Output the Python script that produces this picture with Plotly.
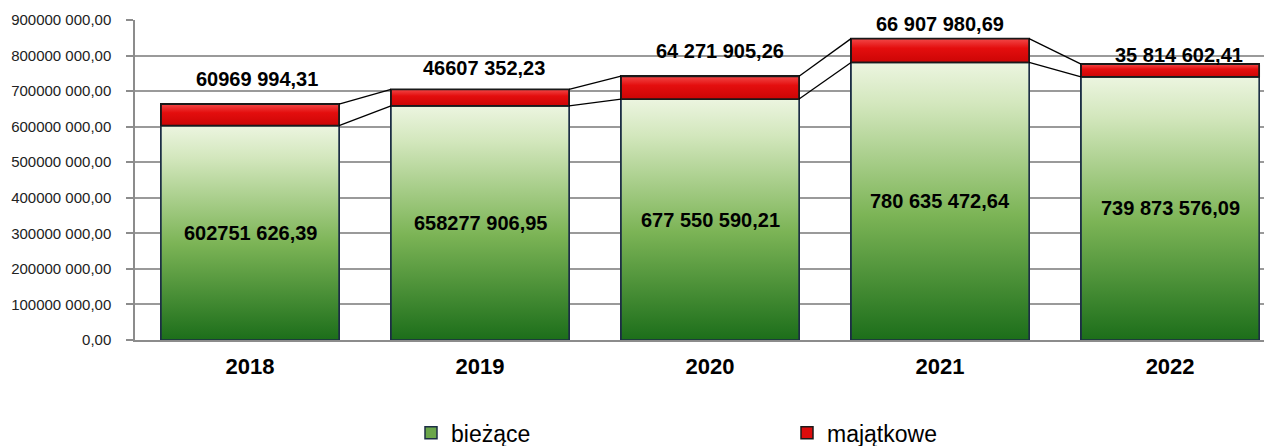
import plotly.graph_objects as go

years = ["2018", "2019", "2020", "2021", "2022"]
biezace = [602751626.39, 658277906.95, 677550590.21, 780635472.64, 739873576.09]
majatkowe = [60969994.31, 46607352.23, 64271905.26, 66907980.69, 35814602.41]
biezace_labels = ["602751 626,39", "658277 906,95", "677 550 590,21", "780 635 472,64", "739 873 576,09"]
majatkowe_labels = ["60969 994,31", "46607 352,23", "64 271 905,26", "66 907 980,69", "35 814 602,41"]
tick_vals = [0, 100e6, 200e6, 300e6, 400e6, 500e6, 600e6, 700e6, 800e6, 900e6]
tick_text = ["0,00", "100000 000,00", "200000 000,00", "300000 000,00", "400000 000,00",
             "500000 000,00", "600000 000,00", "700000 000,00", "800000 000,00", "900000 000,00"]

# label placement (layout, not data)
maj_label_y = [734e6, 765e6, 813e6, 889e6, 801e6]
maj_label_dx = [7, 4, 10, 0, 9]

BW = 0.774
REG = "Liberation Sans, Arial, sans-serif"
xs = list(range(len(years)))

fig = go.Figure()
fig.add_trace(go.Bar(
    x=xs, y=biezace, name="bieżące", width=BW,
    marker=dict(color="#6aa64a", line=dict(color="#1c2e45", width=1.5)),
))
fig.add_trace(go.Bar(
    x=xs, y=majatkowe, name="majątkowe", width=BW,
    marker=dict(color="#dc0c0c", line=dict(color="#1a1a1a", width=1.5)),
))

# gradient overlays for green segments
for i, v in enumerate(biezace):
    x0, x1 = i - BW / 2, i + BW / 2
    fig.add_trace(go.Scatter(
        x=[x0, x1, x1, x0, x0], y=[0, 0, v, v, 0], mode="lines", fill="toself",
        fillgradient=dict(type="vertical", colorscale=[[0, "#1c6e1a"], [0.45, "#7cb456"], [0.85, "#d3e7bd"], [1, "#ecf5e0"]]),
        line=dict(color="#1c2e45", width=1.5), showlegend=False, hoverinfo="skip"))
# gradient overlays for red segments
for i, (g, m) in enumerate(zip(biezace, majatkowe)):
    x0, x1 = i - BW / 2, i + BW / 2
    fig.add_trace(go.Scatter(
        x=[x0, x1, x1, x0, x0], y=[g, g, g + m, g + m, g], mode="lines", fill="toself",
        fillgradient=dict(type="vertical", colorscale=[[0, "#cc0505"], [0.6, "#e40e0e"], [1, "#f24848"]]),
        line=dict(color="#1a1a1a", width=1.8), showlegend=False, hoverinfo="skip"))

# series lines
for level in (biezace, [g + m for g, m in zip(biezace, majatkowe)]):
    lx, ly = [], []
    for i in range(len(years) - 1):
        lx += [i + BW / 2, i + 1 - BW / 2, None]
        ly += [level[i], level[i + 1], None]
    fig.add_trace(go.Scatter(x=lx, y=ly, mode="lines", line=dict(color="#000000", width=1.3),
                             showlegend=False, hoverinfo="skip"))

LABEL_FONT = dict(family=REG, size=20, color="#000000", weight="bold")
for i, (v, t) in enumerate(zip(biezace, biezace_labels)):
    fig.add_annotation(x=i, y=v / 2, text=t, showarrow=False, font=LABEL_FONT)

for i, t in enumerate(majatkowe_labels):
    fig.add_annotation(x=i, y=maj_label_y[i], text=t, showarrow=False, xshift=maj_label_dx[i],
                       font=LABEL_FONT)

# page body has an 8px margin, so the figure is sized/margined to compensate
fig.update_layout(
    width=1264, height=438, barmode="stack",
    margin=dict(l=127, r=0, t=12, b=106, autoexpand=False),
    plot_bgcolor="#ffffff", paper_bgcolor="#ffffff",
    font=dict(family=REG, color="#000000"),
    legend=dict(orientation="h", traceorder="normal", x=(403 - 127) / 1137, xanchor="left",
                y=-0.29, yanchor="middle",
                entrywidth=331, entrywidthmode="pixels",
                font=dict(family=REG, size=23, color="#000000"), itemwidth=30),
    xaxis=dict(tickvals=xs, ticktext=years, range=[-0.5, 4.443], showgrid=False, automargin=False,
               showline=True, linecolor="#8c8c8c", linewidth=1.5, ticks="", ticklabelstandoff=6,
               tickfont=dict(family=REG, size=22, color="#000000", weight="bold"), zeroline=False),
    yaxis=dict(range=[0, 900e6], tickvals=tick_vals, ticktext=tick_text, showgrid=True, automargin=False,
               gridcolor="#9a9a9a", gridwidth=1.5, showline=True, linecolor="#8c8c8c", linewidth=1.5,
               ticks="outside", ticklen=7, tickcolor="#8c8c8c", tickwidth=1.5, ticklabelstandoff=12,
               tickfont=dict(family=REG, size=15, color="#222222"), zeroline=False),
)

fig.write_html("out.html")
